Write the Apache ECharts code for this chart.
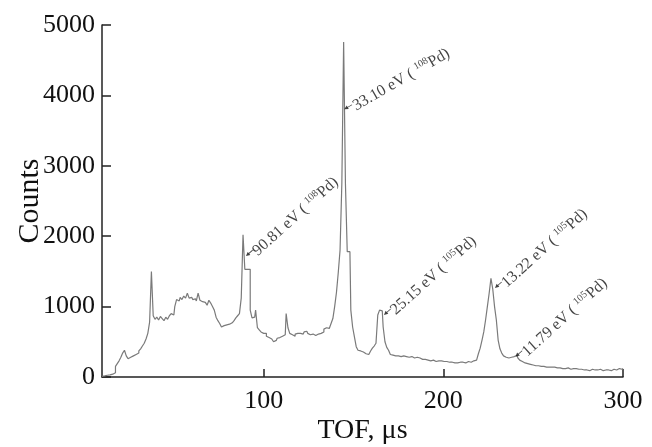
<!DOCTYPE html>
<html>
<head>
<meta charset="utf-8">
<script src="https://cdn.jsdelivr.net/npm/echarts@6/dist/echarts.min.js"></script>
<style>
  html, body { margin: 0; padding: 0; background: #fff; }
  #chart { width: 652px; height: 447px; }
</style>
</head>
<body>
<div id="chart"></div>
<script>
// TOF spectrum, 1 us bins starting at tofStart
var tofStart = 10;
var binWidth = 1;
var counts = [
  10, 15, 15, 25, 30, 30, 40, 60, 150, 190,          // 10-19
  230, 280, 340, 380, 300, 260, 280, 300, 290, 320,  // 20-29
  340, 370, 400, 440, 480, 540, 620, 780, 1500, 870, // 30-39
  820, 850, 810, 860, 830, 800, 850, 820, 870, 900,  // 40-49
  880, 1000, 1100, 1080, 1130, 1100, 1150, 1120, 1190, 1120, // 50-59
  1130, 1100, 1110, 1080, 1190, 1090, 1070, 1060, 1040, 1020, // 60-69
  1090, 1050, 1000, 950, 850, 800, 760, 710, 730, 740, // 70-79
  760, 750, 770, 780, 800, 840, 870, 900, 1120, 2020, // 80-89
  1530, 1530, 1530, 950, 840, 850, 950, 700, 670, 640, // 90-99
  620, 620, 580, 560, 540, 520, 500, 520, 550, 560,  // 100-109
  580, 600, 600, 900, 700, 620, 600, 580, 610, 620,  // 110-119
  620, 640, 610, 640, 650, 620, 600, 610, 600, 590,  // 120-129
  610, 600, 620, 640, 680, 700, 690, 700, 760, 830,  // 130-139
  1000, 1200, 1480, 1800, 2750, 4760, 2750, 1780, 1780, 950, // 140-149
  710, 570, 430, 380, 370, 355, 340, 330, 320, 340,  // 150-159
  370, 410, 440, 480, 880, 950, 940, 710, 500, 420,  // 160-169
  380, 320, 310, 300, 310, 300, 290, 310, 300, 290,  // 170-179
  290, 280, 290, 280, 270, 280, 260, 270, 250, 260,  // 180-189
  250, 240, 250, 230, 240, 230, 220, 230, 220, 230,  // 190-199
  220, 210, 220, 210, 200, 210, 200, 210, 200, 210,  // 200-209
  200, 210, 200, 210, 220, 210, 220, 230, 240, 260,  // 210-219
  330, 410, 520, 640, 810, 1000, 1190, 1400, 1250, 1000, // 220-229
  810, 525, 400, 340, 300, 280, 270, 260, 280, 290,  // 230-239
  300, 310, 270, 240, 220, 200, 190, 190, 180, 170,  // 240-249
  170, 160, 170, 160, 150, 160, 150, 140, 150, 140,  // 250-259
  140, 130, 140, 130, 140, 130, 120, 130, 120, 130,  // 260-269
  120, 110, 120, 110, 120, 110, 100, 110, 100, 110,  // 270-279
  100, 90, 100, 110, 100, 90, 100, 110, 100, 90,     // 280-289
  100, 110, 100, 90, 100, 110, 100, 110, 120, 110,   // 290-299
  120                                                // 300
];

// peak annotations (arrow tip in data coords)
var annTof = [147, 92, 168.8, 230.6, 242];
var annCounts = [3835, 1760, 923, 1307, 330];
var annEnergy = ["33.10", "90.81", "25.15", "13.22", "11.79"];
var annMass = ["108", "108", "105", "105", "105"];
var annAngle = [30, 42, 42, 42, 42];

var xTicks = [100, 200, 300];

var chart = echarts.init(document.getElementById("chart"));

var spectrum = counts.map(function (c, i) {
  return [tofStart + i * binWidth, c];
});

var annData = annTof.map(function (t, i) {
  return {
    value: [t, annCounts[i]],
    symbolRotate: annAngle[i],
    label: {
      rotate: annAngle[i],
      formatter: annEnergy[i] + " eV ( {sup|" + annMass[i] + "}Pd)",
    },
  };
});

var font = "Liberation Serif";

var option = {
  animation: false,
  grid: { left: 102, right: 29, top: 25, bottom: 70, outerBoundsMode: "none" },
  xAxis: {
    type: "value",
    min: 10,
    max: 300,
    name: "TOF, \u03bcs",
    nameLocation: "middle",
    nameGap: 40,
    nameMoveOverlap: false,
    nameTextStyle: { fontFamily: font, fontSize: 28, color: "#111" },
    axisLine: { lineStyle: { color: "#222", width: 1.5 } },
    axisTick: {
      inside: true,
      length: 8,
      customValues: xTicks,
      lineStyle: { color: "#222", width: 1.5 },
    },
    axisLabel: {
      customValues: xTicks,
      margin: 11,
      fontFamily: font,
      fontSize: 26,
      color: "#111",
    },
    splitLine: { show: false },
  },
  yAxis: {
    type: "value",
    min: 0,
    max: 5000,
    interval: 1000,
    name: "Counts",
    nameLocation: "middle",
    nameGap: 57,
    nameMoveOverlap: false,
    nameTextStyle: { fontFamily: font, fontSize: 30, color: "#111" },
    axisLine: { show: true, lineStyle: { color: "#222", width: 1.5 } },
    axisTick: {
      show: true,
      inside: true,
      length: 9,
      lineStyle: { color: "#222", width: 1.5 },
    },
    axisLabel: {
      margin: 7,
      fontFamily: font,
      fontSize: 26,
      color: "#111",
      formatter: function (v) {
        return String(v);
      },
    },
    splitLine: { show: false },
  },
  series: [
    {
      type: "line",
      step: "middle",
      data: spectrum,
      showSymbol: false,
      lineStyle: { color: "#7a7a7a", width: 1.2 },
    },
    {
      type: "scatter",
      data: annData,
      symbol: "path://M0,5 L9,0 L9,4 L20,4 L20,6 L9,6 L9,10 Z",
      symbolSize: [9, 4],
      itemStyle: { color: "#111" },
      label: {
        show: true,
        position: "right",
        distance: 1,
        fontFamily: font,
        fontSize: 16,
        color: "#111",
        rich: {
          sup: { fontFamily: font, fontSize: 10, padding: [0, 0, 8, 0], color: "#111" },
        },
      },
      z: 5,
    },
  ],
};

chart.setOption(option);
</script>
</body>
</html>
